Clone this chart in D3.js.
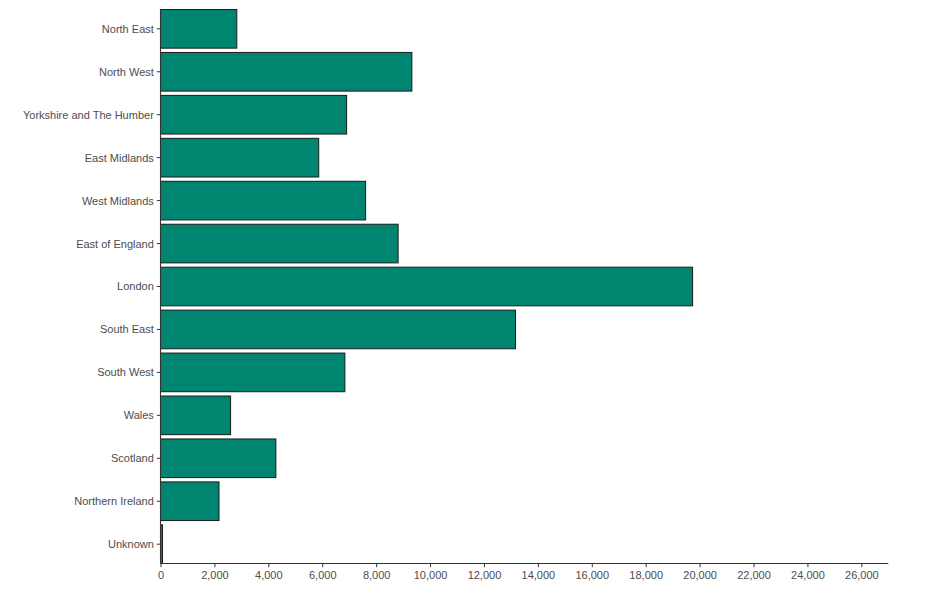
<!DOCTYPE html>
<html>
<head>
<meta charset="utf-8">
<script src="https://cdn.jsdelivr.net/npm/d3@7"></script>
<style>
  html, body { margin: 0; padding: 0; background: #ffffff; }
  svg { display: block; }
</style>
</head>
<body>
<svg id="chart" width="929" height="591"></svg>
<script>
const regions = ["North East", "North West", "Yorkshire and The Humber", "East Midlands",
  "West Midlands", "East of England", "London", "South East", "South West",
  "Wales", "Scotland", "Northern Ireland", "Unknown"];
const counts = [2830, 9325, 6905, 5870, 7610, 8815, 19740, 13170, 6840, 2600, 4280, 2170, 75];
const xTicks = [0, 2000, 4000, 6000, 8000, 10000, 12000, 14000, 16000, 18000, 20000, 22000, 24000, 26000];
const xMax = 27000;

(function () {
const svg = d3.select("#chart");
const pLeft = 160.5, pRight = 888.3, pTop = 9.5, pBottom = 563.5;

const x = d3.scaleLinear().domain([0, xMax]).range([pLeft, pRight]);
const y = d3.scaleBand().domain(regions).range([pTop, pBottom]).paddingInner(0.1).paddingOuter(0);

const textColor = "#4d4d4d";
const font = "Liberation Sans, Arial, sans-serif";

svg.append("g").selectAll("rect").data(regions).join("rect")
  .attr("x", x(0))
  .attr("y", d => y(d))
  .attr("width", (d, i) => x(counts[i]) - x(0))
  .attr("height", y.bandwidth())
  .attr("fill", "#008571")
  .attr("stroke", "#1a1a1a")
  .attr("stroke-width", 1);

const xAxis = d3.axisBottom(x).tickValues(xTicks).tickSize(3.7).tickPadding(3.5)
  .tickFormat(d3.format(","));
const gx = svg.append("g").attr("transform", `translate(0,${pBottom})`).call(xAxis);
gx.select(".domain").remove();
gx.append("line").attr("x1", pLeft).attr("x2", pRight).attr("y1", 0).attr("y2", 0)
  .attr("stroke", "#333").attr("stroke-width", 1.1);
gx.selectAll(".tick line").attr("stroke", "#333");
gx.selectAll(".tick text").attr("fill", textColor).style("font-family", font).style("font-size", "11px");

const yAxis = d3.axisLeft(y).tickSize(3.7).tickPadding(3);
const gy = svg.append("g").attr("transform", `translate(${pLeft},0)`).call(yAxis);
gy.select(".domain").remove();
gy.append("line").attr("x1", 0).attr("x2", 0).attr("y1", pTop).attr("y2", pBottom)
  .attr("stroke", "#333").attr("stroke-width", 1.1);
gy.selectAll(".tick line").attr("stroke", "#333");
gy.selectAll(".tick text").attr("fill", textColor).attr("dy", "0.36em")
  .style("font-family", font).style("font-size", "11px");
})();
</script>
</body>
</html>
